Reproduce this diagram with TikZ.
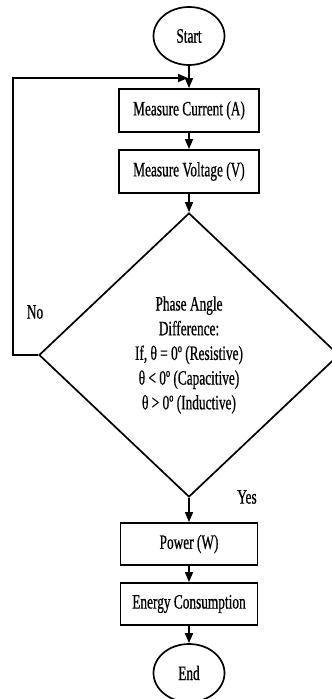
\documentclass[tikz,border=0pt]{standalone}
\usepackage{fontspec}
\setmainfont[FakeStretch=0.65,FakeBold=0.6]{Liberation Serif}
\usetikzlibrary{shapes.geometric,arrows.meta}
\begin{document}
\begin{tikzpicture}[x=1pt,y=1pt,
  every node/.style={font=\fontsize{20.5}{24.7}\selectfont},
  term/.style={draw,ellipse,line width=1.7pt,minimum width=71pt,minimum height=58pt,inner sep=0pt},
  proc/.style={draw,rectangle,line width=1.8pt,minimum width=140pt,minimum height=43pt,inner sep=0pt},
  dec/.style={draw,diamond,line width=1.7pt,minimum width=300pt,minimum height=284pt,aspect=1.056,inner sep=0pt,align=center},
  arr/.style={line width=1.5pt,-{Triangle[length=10pt,width=8pt]}},
  lbl/.style={inner sep=0pt}]
\useasboundingbox (0,0) rectangle (332,-699);
\node[term] (start) at (189,-36) {Start};
\node[proc] (mc) at (189,-110.5) {Measure Current (A)};
\node[proc] (mv) at (189,-171.5) {Measure Voltage (V)};
\node[dec] (pa) at (189,-355) {Phase Angle\\Difference:\\If, θ = 0º (Resistive)\\θ < 0º (Capacitive)\\θ > 0º (Inductive)};
\node[proc,minimum width=137pt,minimum height=42pt] (pw) at (189,-544) {Power (W)};
\node[proc,minimum width=137pt,minimum height=42pt] (en) at (189,-604) {Energy Consumption};
\node[term] (end) at (189,-673) {End};
\node[lbl] (no) at (35,-312) {No};
\node[lbl] (yes) at (247,-497) {Yes};
\coordinate (lc) at (13,-355);
\coordinate (j) at (188,-78);
\draw[arr] (start) -- (mc);
\draw[arr] (mc) -- (mv);
\draw[arr] (mv) -- (pa);
\draw[arr] (pa) -- (pw);
\draw[arr] (pw) -- (en);
\draw[arr] (en) -- (end);
\draw[arr] (pa.west) -- (lc) |- (j);
\end{tikzpicture}
\end{document}
